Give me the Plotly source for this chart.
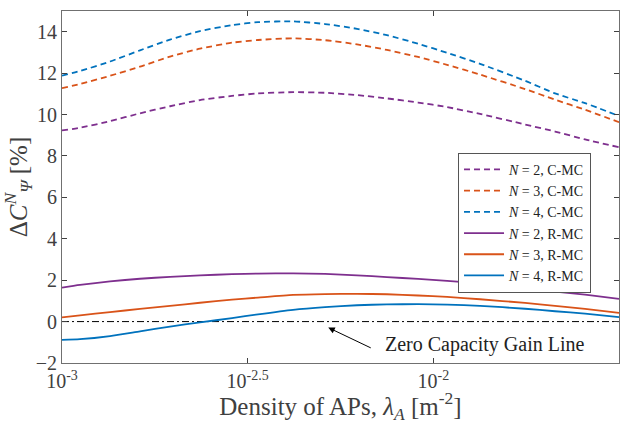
import plotly.graph_objects as go

# Density of APs (m^-2)
density = [0.001, 0.001118, 0.001347, 0.001622, 0.001954, 0.002353, 0.00287, 0.003372, 0.00419,
           0.00511, 0.00623, 0.0075, 0.0091, 0.01089, 0.01336, 0.01766, 0.02127, 0.02562, 0.031623]

cmc_n2 = [9.23, 9.36, 9.68, 10.06, 10.40, 10.70, 10.90, 11.02, 11.08, 11.05, 10.94, 10.78, 10.58,
          10.36, 10.03, 9.52, 9.18, 8.80, 8.42]
cmc_n3 = [11.27, 11.47, 11.87, 12.31, 12.80, 13.18, 13.47, 13.60, 13.68, 13.59, 13.39, 13.12, 12.78,
          12.40, 11.93, 11.23, 10.72, 10.23, 9.63]
cmc_n4 = [11.88, 12.10, 12.56, 13.10, 13.62, 14.03, 14.32, 14.46, 14.50, 14.37, 14.14, 13.83, 13.42,
          12.98, 12.45, 11.63, 11.02, 10.55, 9.93]
rmc_n2 = [1.64, 1.77, 1.94, 2.07, 2.16, 2.23, 2.29, 2.32, 2.33, 2.30, 2.23, 2.15, 2.06,
          1.97, 1.83, 1.60, 1.45, 1.30, 1.10]
rmc_n3 = [0.20, 0.30, 0.46, 0.61, 0.76, 0.91, 1.06, 1.16, 1.29, 1.33, 1.34, 1.32, 1.26,
          1.19, 1.08, 0.90, 0.76, 0.61, 0.42]
rmc_n4 = [-0.88, -0.85, -0.70, -0.47, -0.24, -0.04, 0.17, 0.35, 0.57, 0.70, 0.79, 0.83, 0.84,
          0.82, 0.76, 0.62, 0.50, 0.38, 0.22]

zero_x = [0.001, 0.031623]
zero_y = [0, 0]

x_tickvals = [0.001, 0.0031623, 0.01, 0.031623]
x_ticktext = ["10<sup>-3</sup>", "10<sup>-2.5</sup>", "10<sup>-2</sup>", "10<sup>-1.5</sup>"]
y_tickvals = [-2, 0, 2, 4, 6, 8, 10, 12, 14]

PURPLE = "#7E2F8E"
ORANGE = "#D95319"
BLUE = "#0072BD"
FONT = "Liberation Serif"
DASH = "6px,4px"

series = [
    ("<i>N</i> = 2, C-MC", cmc_n2, PURPLE, DASH),
    ("<i>N</i> = 3, C-MC", cmc_n3, ORANGE, DASH),
    ("<i>N</i> = 4, C-MC", cmc_n4, BLUE, DASH),
    ("<i>N</i> = 2, R-MC", rmc_n2, PURPLE, "solid"),
    ("<i>N</i> = 3, R-MC", rmc_n3, ORANGE, "solid"),
    ("<i>N</i> = 4, R-MC", rmc_n4, BLUE, "solid"),
]

fig = go.Figure()
fig.add_trace(go.Scatter(x=zero_x, y=zero_y, mode="lines", showlegend=False,
                         line=dict(color="black", width=1, dash="7px,3px,2px,3px")))
for name, vals, col, dash in series:
    fig.add_trace(go.Scatter(x=density, y=vals, name=name, mode="lines",
                             line=dict(color=col, width=1.8, dash=dash, shape="spline", smoothing=0.6)))

fig.add_annotation(x=-2.283, y=-0.29, xref="x", yref="y",
                   ax=44, ay=21, axref="pixel", ayref="pixel",
                   text="", showarrow=True, arrowhead=2, arrowsize=1.3, arrowwidth=1, arrowcolor="black")
fig.add_annotation(x=-1.861, y=-1.09, xref="x", yref="y", text="Zero Capacity Gain Line",
                   showarrow=False, font=dict(family=FONT, size=20, color="#222222"))

axis_common = dict(showline=True, linecolor="#707070", linewidth=1, mirror="ticks",
                   ticks="inside", ticklen=5, tickcolor="#404040", showgrid=False, zeroline=False)

fig.update_layout(
    width=634, height=424,
    margin=dict(l=62, r=15, t=10, b=60),
    paper_bgcolor="white", plot_bgcolor="white",
    font=dict(family=FONT, color="#404040"),
    xaxis=dict(type="log", range=[-3, -1.5], tickvals=x_tickvals, ticktext=x_ticktext,
               tickfont=dict(family=FONT, size=20, color="#404040"),
               title=dict(text="Density of APs, <i>λ<sub>A</sub></i> [m<sup>-2</sup>]",
                          font=dict(family=FONT, size=25, color="#404040"), standoff=4),
               **axis_common),
    yaxis=dict(range=[-2, 15], tickvals=y_tickvals,
               tickfont=dict(family=FONT, size=20, color="#404040"),
               title=dict(text="Δ<i>C</i><sup><i>N</i></sup><sub><i>Ψ</i></sub> [%]",
                          font=dict(family=FONT, size=25, color="#404040"), standoff=2),
               **axis_common),
    legend=dict(x=0.711, y=0.597, xanchor="left", yanchor="top",
                bgcolor="white", bordercolor="#555555", borderwidth=1,
                font=dict(family=FONT, size=14, color="#222222"),
                tracegroupgap=0, itemwidth=40),
)

fig.write_html("out.html", config={"displayModeBar": False},
               post_script="document.body.style.margin='0';")
